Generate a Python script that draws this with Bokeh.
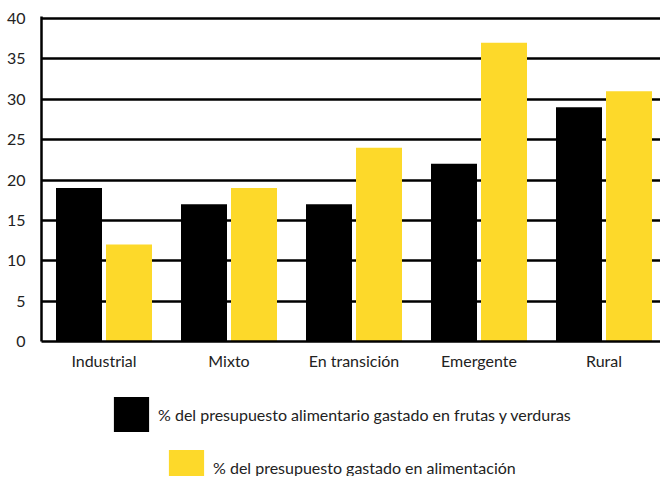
from bokeh.plotting import figure
from bokeh.models import ColumnDataSource, Legend, LegendItem, FixedTicker, Range1d
from bokeh.layouts import column
from bokeh.embed import file_html
from bokeh.resources import INLINE

categories = ["Industrial", "Mixto", "En transición", "Emergente", "Rural"]
frutas_verduras = [19, 17, 17, 22, 29]
alimentacion = [12, 19, 24, 37, 31]
y_ticks = [0, 5, 10, 15, 20, 25, 30, 35, 40]
label_frutas = "% del presupuesto alimentario gastado en frutas y verduras"
label_alim = "% del presupuesto gastado en alimentación"

BLACK = "#000000"
YELLOW = "#FDD92A"
FONT = "Lato"

idx = list(range(len(categories)))
src = ColumnDataSource(dict(
    x=idx, x1=[i - 0.2 for i in idx], x2=[i + 0.2 for i in idx],
    v1=frutas_verduras, v2=alimentacion,
))

p = figure(width=660, height=378, output_backend="svg", toolbar_location=None,
           x_range=Range1d(-0.5, 4.452), y_range=Range1d(0, 40.25),
           min_border_left=41, min_border_right=0, min_border_top=16,
           min_border_bottom=37)
p.outline_line_color = None

p.vbar(x="x1", top="v1", width=0.368, source=src, fill_color=BLACK, line_color=None)
p.vbar(x="x2", top="v2", width=0.368, source=src, fill_color=YELLOW, line_color=None)

p.xaxis.ticker = FixedTicker(ticks=idx)
p.xaxis.major_label_overrides = {i: c for i, c in zip(idx, categories)}
p.yaxis.ticker = FixedTicker(ticks=y_ticks)

for ax in (p.xaxis[0], p.yaxis[0]):
    ax.axis_line_color = BLACK
    ax.axis_line_width = 2.5
    ax.major_tick_line_color = None
    ax.minor_tick_line_color = None
    ax.major_label_text_font = FONT
    ax.major_label_text_font_size = "16px"
    ax.major_label_text_color = "#222222"

p.xaxis.major_label_standoff = 3
p.yaxis.major_label_standoff = 10
p.yaxis.major_label_text_baseline = "top"
p.xgrid.grid_line_color = None
p.ygrid.grid_line_color = BLACK
p.ygrid.grid_line_width = 2.5
p.ygrid.level = "underlay"

# legend panel (frame aligned with main plot frame)
lf = figure(width=660, height=98, output_backend="svg", toolbar_location=None,
            x_range=Range1d(10, 11), y_range=Range1d(0, 1),
            min_border_left=41, min_border_right=0, min_border_top=0,
            min_border_bottom=0)
lf.axis.visible = False
lf.grid.visible = False
lf.outline_line_color = None
l1 = lf.vbar(x="x", top="v1", width=0.368, source=src, fill_color=BLACK,
             line_color=None, visible=False)
l2 = lf.vbar(x="x", top="v2", width=0.368, source=src, fill_color=YELLOW,
             line_color=None, visible=False)

def mk_legend(item, loc):
    return Legend(items=[item], location=loc, orientation="vertical",
                  glyph_width=44, glyph_height=44, label_standoff=5,
                  padding=0, margin=0, spacing=0,
                  border_line_color=None, background_fill_alpha=0,
                  label_text_font=FONT, label_text_font_size="16px",
                  label_text_color="#222222", label_height=44)

lf.add_layout(mk_legend(LegendItem(label=label_frutas, renderers=[l1]), (68, 40)), "center")
lf.add_layout(mk_legend(LegendItem(label=label_alim, renderers=[l2]), (123, -13)), "center")

layout = column(p, lf, spacing=0)
open("out.html", "w").write(file_html(layout, INLINE))
